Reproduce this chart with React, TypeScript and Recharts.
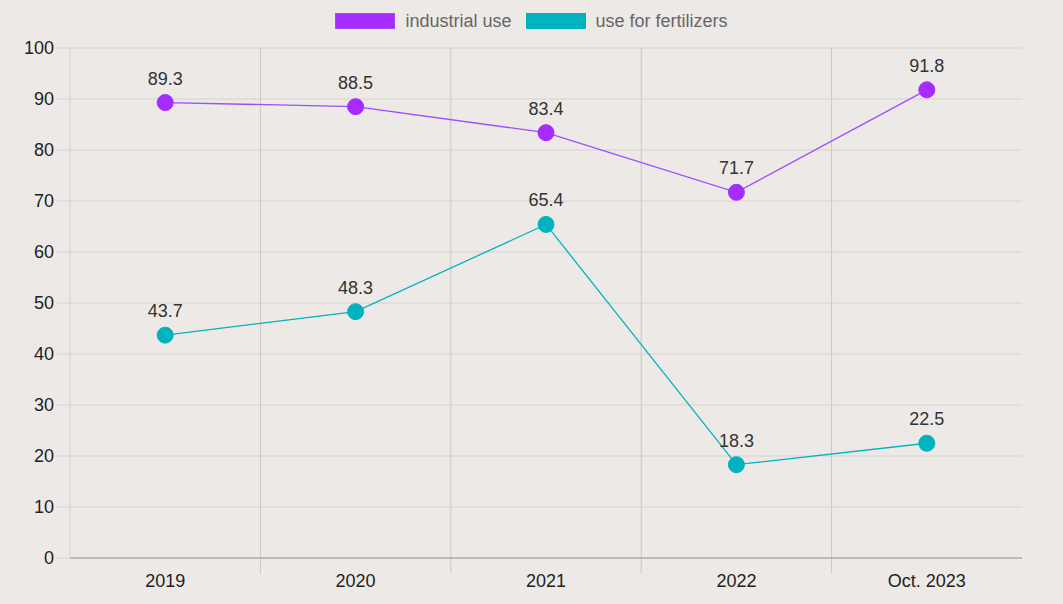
import { CartesianGrid, LabelList, Line, LineChart, ReferenceLine, XAxis, YAxis } from "recharts";

const categories = ["2019", "2020", "2021", "2022", "Oct. 2023"];
const industrialUse = [89.3, 88.5, 83.4, 71.7, 91.8];
const fertilizerUse = [43.7, 48.3, 65.4, 18.3, 22.5];
const yTicks = [0, 10, 20, 30, 40, 50, 60, 70, 80, 90, 100];

const series = [
  { key: "industrial", name: "industrial use", values: industrialUse, dot: "#a52bff", line: "#9d4dff" },
  { key: "fertilizers", name: "use for fertilizers", values: fertilizerUse, dot: "#00b3be", line: "#00b3be" }
];

const data = categories.map((c, i) => ({
  x: i + 0.5,
  label: c,
  industrial: industrialUse[i],
  fertilizers: fertilizerUse[i]
}));

const font = "'Liberation Sans', Arial, sans-serif";

export default function App() {
  return (
    <div
      style={{
        position: "fixed",
        inset: 0,
        width: 1063,
        height: 604,
        background: "#ede9e6",
        fontFamily: font
      }}
    >
      <div
        style={{
          position: "absolute",
          top: 11,
          left: 0,
          width: 1063,
          display: "flex",
          justifyContent: "center",
          gap: 14,
          fontSize: 18,
          lineHeight: "20px",
          color: "#666"
        }}
      >
        {series.map((s) => (
          <div key={s.key} style={{ display: "flex", alignItems: "center", gap: 10 }}>
            <span
              style={{
                display: "inline-block",
                width: 58,
                height: 14,
                background: s.dot,
                border: `1px solid ${s.line}`
              }}
            />
            <span>{s.name}</span>
          </div>
        ))}
      </div>
      <LineChart width={1063} height={604} data={data} margin={{ top: 48, right: 41, bottom: 16, left: 10 }}>
        <CartesianGrid vertical={false} stroke="#d6d2cf" />
        {categories.slice(1).map((_, i) => (
          <ReferenceLine
            key={i}
            ifOverflow="visible"
            stroke="#cac6c3"
            segment={[
              { x: i + 1, y: -3 },
              { x: i + 1, y: 100 }
            ]}
          />
        ))}
        <XAxis
          dataKey="x"
          type="number"
          domain={[0, categories.length]}
          ticks={data.map((d) => d.x)}
          tickFormatter={(v: number) => categories[Math.floor(v)]}
          tickLine={false}
          tickSize={8}
          tickMargin={8}
          height={30}
          axisLine={{ stroke: "#999" }}
          tick={{ fill: "#222", fontSize: 18, fontFamily: font }}
        />
        <YAxis
          domain={[0, 100]}
          ticks={yTicks}
          width={60}
          tickSize={14}
          tickMargin={2}
          axisLine={{ stroke: "#d6d2cf" }}
          tickLine={{ stroke: "#d6d2cf" }}
          tick={{ fill: "#222", fontSize: 18, fontFamily: font }}
        />
        {series.map((s) => (
          <Line
            key={s.key}
            dataKey={s.key}
            name={s.name}
            type="linear"
            stroke={s.line}
            strokeWidth={1.3}
            dot={{ r: 8, fill: s.dot, stroke: s.dot, strokeWidth: 1 }}
            activeDot={false}
            isAnimationActive={false}
          >
            <LabelList
              dataKey={s.key}
              position="top"
              offset={18}
              fill="#333"
              fontSize={18}
              fontFamily={font}
            />
          </Line>
        ))}
      </LineChart>
    </div>
  );
}
